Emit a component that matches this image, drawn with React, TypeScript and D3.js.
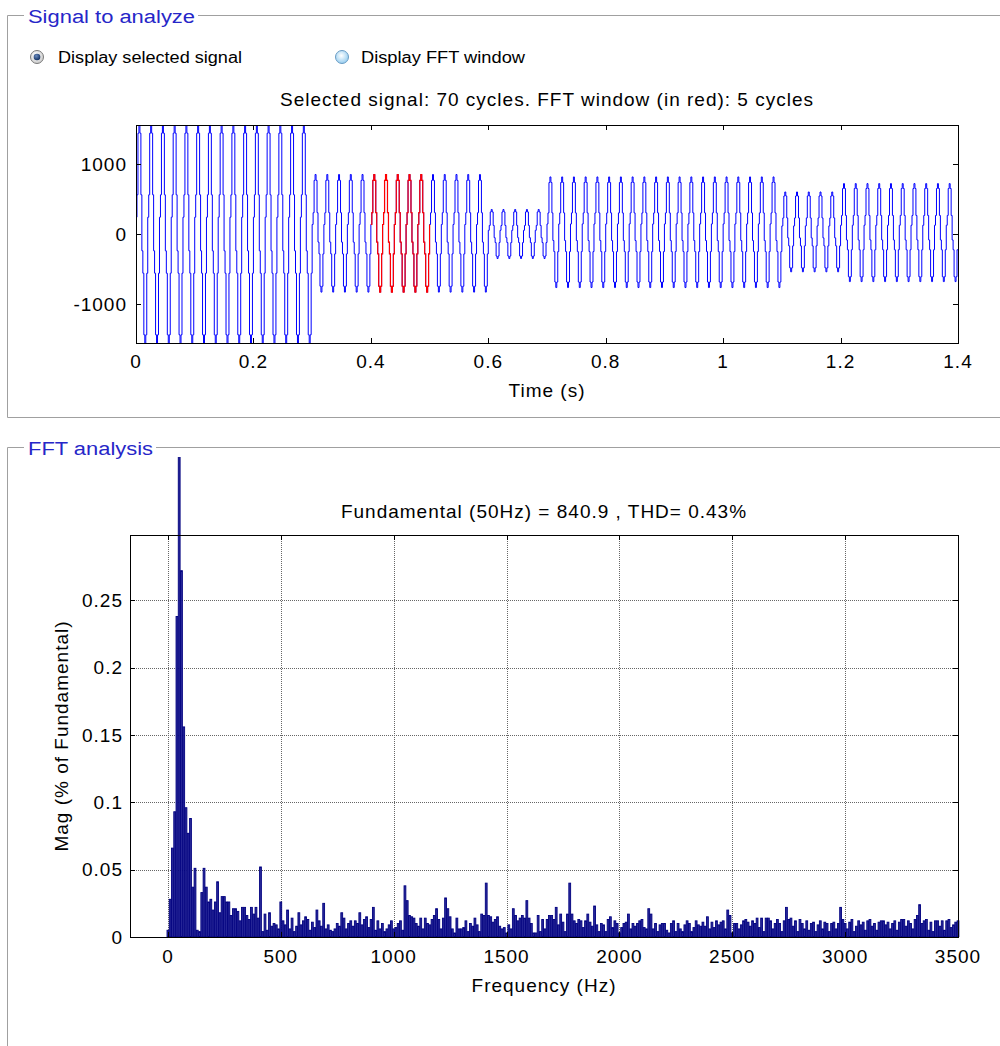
import React, { useEffect, useRef } from 'react';
import * as d3 from 'd3';

// upper plot: signal pieces (s), their peak value and offset
const segmentStart = [0, 0.3, 0.6, 0.7, 1.1, 1.2];
const segmentEnd = [0.3, 0.6, 0.7, 1.1, 1.2, 1.4];
const segmentPeak = [1600, 840, 350, 790, 570, 700];
const segmentOffset = [0, 10, 0, 25, 30, 20];
// staircase levels of one cycle, fraction of the peak
const cycleSteps = [0.15, 0.35, 0.9, 1.0, 0.9, 0.35, -0.15, -0.35, -0.9, -1.0, -0.9, -0.35];
const fundamentalHz = 50;
const cycles = 70;
const fftWindow = [0.4, 0.5];

const timeTicks = [0, 0.2, 0.4, 0.6, 0.8, 1, 1.2, 1.4];
const signalTicks = [-1000, 0, 1000];
const freqTicks = [0, 500, 1000, 1500, 2000, 2500, 3000, 3500];
const magTicks = [0, 0.05, 0.1, 0.15, 0.2, 0.25];

// spectrum, one bin every 10 Hz from 0 to 3500 Hz, % of fundamental (50 Hz bin = 100)
const binHz = 10;
const spectrum = [
  0.005, 0.028, 0.066, 0.093, 0.238, 100, 0.272, 0.156, 0.096, 0.077,
  0.088, 0.037, 0.051, 0.005, 0.004, 0.033, 0.051, 0.037, 0.026, 0.028,
  0.020, 0.026, 0.041, 0.018, 0.030, 0.030, 0.026, 0.026, 0.016, 0.021,
  0.021, 0.019, 0.012, 0.022, 0.022, 0.016, 0.013, 0.022, 0.017, 0.022,
  0.014, 0.052, 0.004, 0.017, 0.005, 0.018, 0.008, 0.010, 0.009, 0.006,
  0.026, 0.012, 0.009, 0.020, 0.006, 0.014, 0.004, 0.008, 0.018, 0.009,
  0.012, 0.015, 0.013, 0.005, 0.011, 0.007, 0.020, 0.012, 0.008, 0.025,
  0.006, 0.009, 0.005, 0.004, 0.006, 0.010, 0.008, 0.018, 0.014, 0.006,
  0.010, 0.012, 0.008, 0.012, 0.010, 0.018, 0.009, 0.013, 0.015, 0.007,
  0.013, 0.022, 0.005, 0.012, 0.006, 0.010, 0.004, 0.006, 0.009, 0.012,
  0.006, 0.007, 0.010, 0.012, 0.005, 0.038, 0.027, 0.016, 0.015, 0.014,
  0.010, 0.008, 0.014, 0.006, 0.014, 0.010, 0.009, 0.013, 0.016, 0.021,
  0.013, 0.006, 0.014, 0.029, 0.021, 0.015, 0.006, 0.003, 0.014, 0.006,
  0.006, 0.007, 0.012, 0.004, 0.010, 0.008, 0.014, 0.009, 0.004, 0.017,
  0.016, 0.040, 0.016, 0.015, 0.011, 0.013, 0.015, 0.008, 0.006, 0.007,
  0.003, 0.009, 0.006, 0.021, 0.016, 0.012, 0.014, 0.016, 0.014, 0.027,
  0.014, 0.010, 0.003, 0.003, 0.016, 0.004, 0.013, 0.006, 0.013, 0.016,
  0.016, 0.013, 0.022, 0.009, 0.017, 0.011, 0.004, 0.017, 0.040, 0.017,
  0.012, 0.010, 0.013, 0.012, 0.007, 0.012, 0.017, 0.011, 0.008, 0.023,
  0.009, 0.004, 0.010, 0.009, 0.004, 0.013, 0.015, 0.007, 0.012, 0.010,
  0.003, 0.007, 0.010, 0.011, 0.017, 0.006, 0.010, 0.008, 0.010, 0.012,
  0.013, 0.007, 0.006, 0.021, 0.017, 0.006, 0.010, 0.004, 0.009, 0.010,
  0.010, 0.005, 0.003, 0.010, 0.012, 0.004, 0.010, 0.006, 0.004, 0.009,
  0.012, 0.010, 0.004, 0.007, 0.012, 0.009, 0.008, 0.011, 0.008, 0.015,
  0.006, 0.011, 0.007, 0.012, 0.009, 0.011, 0.012, 0.006, 0.020, 0.016,
  0.003, 0.010, 0.010, 0.006, 0.009, 0.012, 0.013, 0.011, 0.008, 0.012,
  0.010, 0.014, 0.007, 0.014, 0.004, 0.014, 0.014, 0.012, 0.006, 0.010,
  0.013, 0.010, 0.004, 0.012, 0.022, 0.013, 0.014, 0.008, 0.012, 0.004,
  0.013, 0.010, 0.006, 0.012, 0.005, 0.010, 0.011, 0.004, 0.009, 0.012,
  0.006, 0.011, 0.010, 0.004, 0.010, 0.011, 0.006, 0.010, 0.022, 0.013,
  0.010, 0.006, 0.011, 0.013, 0.004, 0.008, 0.012, 0.009, 0.011, 0.005,
  0.012, 0.013, 0.008, 0.010, 0.005, 0.011, 0.012, 0.012, 0.009, 0.011,
  0.006, 0.010, 0.012, 0.005, 0.011, 0.013, 0.013, 0.008, 0.012, 0.010,
  0.006, 0.013, 0.016, 0.024, 0.010, 0.012, 0.013, 0.005, 0.011, 0.004,
  0.012, 0.012, 0.008, 0.012, 0.005, 0.012, 0.013, 0.007, 0.009, 0.011,
  0.012,
];

const FONT = 'Liberation Sans, Arial, Helvetica, sans-serif';
const PANEL_FONT = 'Liberation Sans, Arial, sans-serif';
const FRAME = '#a0a0a0';
const TITLE_BLUE = '#2626c8';
const NAVY = '#00007f';

const App = () => {
  const ref = useRef<SVGSVGElement>(null);

  useEffect(() => {
    const svg = d3.select(ref.current);
    svg.selectAll('*').remove();
    const defs = svg.append('defs');

    // ---------- panels ----------
    const drawPanel = (top: number, bottom: number, label: string, labelW: number) => {
      svg.append('path')
        .attr('d', `M24,${top + 0.5}H7.5V${bottom + 0.5}H1000M${28 + labelW + 3},${top + 0.5}H1000`)
        .attr('fill', 'none')
        .attr('stroke', FRAME);
      svg.append('text')
        .attr('x', 28)
        .attr('y', top + 8)
        .attr('font-family', PANEL_FONT)
        .attr('font-size', 18)
        .attr('fill', TITLE_BLUE)
        .attr('textLength', labelW)
        .attr('lengthAdjust', 'spacingAndGlyphs')
        .text(label);
    };
    drawPanel(15, 417, 'Signal to analyze', 167);
    drawPanel(447, 1100, 'FFT analysis', 125);

    // radio buttons
    const g1 = defs.append('radialGradient').attr('id', 'radOn').attr('cx', '40%').attr('cy', '35%').attr('r', '70%');
    g1.append('stop').attr('offset', '0%').attr('stop-color', '#ffffff');
    g1.append('stop').attr('offset', '100%').attr('stop-color', '#c8c8c8');
    const g2 = defs.append('radialGradient').attr('id', 'radOff').attr('cx', '45%').attr('cy', '40%').attr('r', '65%');
    g2.append('stop').attr('offset', '0%').attr('stop-color', '#ffffff');
    g2.append('stop').attr('offset', '100%').attr('stop-color', '#8cc8ee');
    const g3 = defs.append('radialGradient').attr('id', 'dot').attr('cx', '40%').attr('cy', '35%').attr('r', '70%');
    g3.append('stop').attr('offset', '0%').attr('stop-color', '#6b8cc0');
    g3.append('stop').attr('offset', '100%').attr('stop-color', '#0c2a5c');

    svg.append('circle').attr('cx', 37).attr('cy', 57).attr('r', 6.5)
      .attr('fill', 'url(#radOn)').attr('stroke', '#7a7a7a');
    svg.append('circle').attr('cx', 37).attr('cy', 57).attr('r', 3.3).attr('fill', 'url(#dot)');
    svg.append('circle').attr('cx', 342).attr('cy', 57).attr('r', 6.5)
      .attr('fill', 'url(#radOff)').attr('stroke', '#6a9cc4');

    const radioLabel = (x: number, s: string, w: number) =>
      svg.append('text')
        .attr('x', x).attr('y', 63)
        .attr('font-family', PANEL_FONT).attr('font-size', 16)
        .attr('fill', '#000')
        .attr('textLength', w).attr('lengthAdjust', 'spacingAndGlyphs')
        .text(s);
    radioLabel(58, 'Display selected signal', 184);
    radioLabel(361, 'Display FFT window', 164);

    const axisText = (sel: d3.Selection<any, any, any, any>) =>
      sel.attr('font-family', FONT).attr('font-size', 19).attr('letter-spacing', 1).attr('fill', '#000');

    // ---------- upper plot: signal ----------
    const xT = d3.scaleLinear().domain([0, 1.4]).range([136, 958]);
    const yS = d3.scaleLinear().domain([-1557, 1557]).range([343, 125]);
    const [tx0, tx1] = xT.range();
    const [ty0, ty1] = yS.range();

    svg.append('rect').attr('x', tx0).attr('y', ty1).attr('width', tx1 - tx0).attr('height', ty0 - ty1).attr('fill', '#fff');

    const pts: [number, number][] = [];
    const period = 1 / fundamentalHz;
    for (let c = 0; c < cycles; c++) {
      const t0 = c * period;
      const s = segmentStart.findIndex((st, i) => t0 >= st - 1e-9 && t0 < segmentEnd[i] - 1e-9);
      cycleSteps.forEach((lv, k) => {
        pts.push([t0 + (k * period) / cycleSteps.length, segmentOffset[s] + segmentPeak[s] * lv]);
      });
    }
    pts.push([1.4, pts[pts.length - 1][1]]);
    const redPts = pts.filter((p) => p[0] >= fftWindow[0] - 1e-9 && p[0] <= fftWindow[1] + 1e-9);

    defs.append('clipPath').attr('id', 'sigClip')
      .append('rect').attr('x', tx0).attr('y', ty1).attr('width', tx1 - tx0).attr('height', ty0 - ty1);

    const line = d3.line<[number, number]>()
      .x((d) => xT(d[0]))
      .y((d) => yS(d[1]))
      .curve(d3.curveStepAfter);

    const sig = svg.append('g').attr('clip-path', 'url(#sigClip)');
    sig.append('path').attr('d', line(pts)).attr('fill', 'none').attr('stroke', '#0000ff').attr('stroke-width', 1);
    sig.append('path').attr('d', line(redPts)).attr('fill', 'none').attr('stroke', '#ff0000').attr('stroke-width', 1.2);

    // ticks inside the box
    const tk = svg.append('g').attr('stroke', '#000').attr('stroke-width', 1);
    tk.selectAll('line.xb').data(timeTicks).join('line').attr('class', 'xb')
      .attr('x1', (d) => Math.round(xT(d)) + 0.5).attr('x2', (d) => Math.round(xT(d)) + 0.5)
      .attr('y1', ty0).attr('y2', ty0 - 5);
    tk.selectAll('line.xt').data(timeTicks).join('line').attr('class', 'xt')
      .attr('x1', (d) => Math.round(xT(d)) + 0.5).attr('x2', (d) => Math.round(xT(d)) + 0.5)
      .attr('y1', ty1).attr('y2', ty1 + 5);
    tk.selectAll('line.yl').data(signalTicks).join('line').attr('class', 'yl')
      .attr('x1', tx0).attr('x2', tx0 + 5)
      .attr('y1', (d) => Math.round(yS(d)) + 0.5).attr('y2', (d) => Math.round(yS(d)) + 0.5);
    tk.selectAll('line.yr').data(signalTicks).join('line').attr('class', 'yr')
      .attr('x1', tx1).attr('x2', tx1 - 5)
      .attr('y1', (d) => Math.round(yS(d)) + 0.5).attr('y2', (d) => Math.round(yS(d)) + 0.5);

    svg.append('rect').attr('x', tx0 + 0.5).attr('y', ty1 + 0.5).attr('width', tx1 - tx0).attr('height', ty0 - ty1)
      .attr('fill', 'none').attr('stroke', '#000');

    svg.append('g').selectAll('text').data(timeTicks).join('text')
      .call(axisText)
      .attr('x', (d) => xT(d)).attr('y', 368).attr('text-anchor', 'middle')
      .text((d) => d3.format('~g')(d));
    svg.append('g').selectAll('text').data(signalTicks).join('text')
      .call(axisText)
      .attr('x', tx0 - 9).attr('y', (d) => yS(d)).attr('dy', '0.35em').attr('text-anchor', 'end')
      .text((d) => String(d));

    svg.append('text').call(axisText)
      .attr('x', (tx0 + tx1) / 2).attr('y', 106).attr('text-anchor', 'middle')
      .text('Selected signal: 70 cycles. FFT window (in red): 5 cycles');
    svg.append('text').call(axisText)
      .attr('x', (tx0 + tx1) / 2).attr('y', 397).attr('text-anchor', 'middle')
      .text('Time (s)');

    // ---------- lower plot: spectrum ----------
    const xF = d3.scaleLinear().domain([-168, 3500]).range([130, 958]);
    const yM = d3.scaleLinear().domain([0, 0.2985]).range([937, 535]);
    const [fx0, fx1] = xF.range();
    const [fy0, fy1] = yM.range();

    svg.append('rect').attr('x', fx0).attr('y', fy1).attr('width', fx1 - fx0).attr('height', fy0 - fy1).attr('fill', '#fff');

    const grid = svg.append('g').attr('stroke', '#666').attr('stroke-width', 1).attr('stroke-dasharray', '1,1');
    grid.selectAll('line.gx').data(freqTicks).join('line').attr('class', 'gx')
      .attr('x1', (d) => Math.round(xF(d)) + 0.5).attr('x2', (d) => Math.round(xF(d)) + 0.5)
      .attr('y1', fy1).attr('y2', fy0);
    grid.selectAll('line.gy').data(magTicks).join('line').attr('class', 'gy')
      .attr('x1', fx0).attr('x2', fx1)
      .attr('y1', (d) => Math.round(yM(d)) + 0.5).attr('y2', (d) => Math.round(yM(d)) + 0.5);

    defs.append('clipPath').attr('id', 'barClip')
      .append('rect').attr('x', 0).attr('y', 457).attr('width', 1000).attr('height', fy0 - 457);

    const halfW = binHz * 0.4;
    svg.append('g').attr('clip-path', 'url(#barClip)')
      .selectAll('rect').data(spectrum).join('rect')
      .attr('x', (_, i) => xF(i * binHz - halfW))
      .attr('width', xF(halfW) - xF(-halfW))
      .attr('y', (d) => yM(d))
      .attr('height', (d) => fy0 - yM(d))
      .attr('fill', '#2a2a9a')
      .attr('stroke', NAVY)
      .attr('stroke-width', 0.9);

    const tk2 = svg.append('g').attr('stroke', '#000').attr('stroke-width', 1);
    tk2.selectAll('line.xb').data(freqTicks).join('line').attr('class', 'xb')
      .attr('x1', (d) => Math.round(xF(d)) + 0.5).attr('x2', (d) => Math.round(xF(d)) + 0.5)
      .attr('y1', fy0).attr('y2', fy0 - 5);
    tk2.selectAll('line.xt').data(freqTicks).join('line').attr('class', 'xt')
      .attr('x1', (d) => Math.round(xF(d)) + 0.5).attr('x2', (d) => Math.round(xF(d)) + 0.5)
      .attr('y1', fy1).attr('y2', fy1 + 5);
    tk2.selectAll('line.yl').data(magTicks).join('line').attr('class', 'yl')
      .attr('x1', fx0).attr('x2', fx0 + 5)
      .attr('y1', (d) => Math.round(yM(d)) + 0.5).attr('y2', (d) => Math.round(yM(d)) + 0.5);
    tk2.selectAll('line.yr').data(magTicks).join('line').attr('class', 'yr')
      .attr('x1', fx1).attr('x2', fx1 - 5)
      .attr('y1', (d) => Math.round(yM(d)) + 0.5).attr('y2', (d) => Math.round(yM(d)) + 0.5);

    svg.append('rect').attr('x', fx0 + 0.5).attr('y', fy1 + 0.5).attr('width', fx1 - fx0).attr('height', fy0 - fy1)
      .attr('fill', 'none').attr('stroke', '#000');

    svg.append('g').selectAll('text').data(freqTicks).join('text')
      .call(axisText)
      .attr('x', (d) => xF(d)).attr('y', 963).attr('text-anchor', 'middle')
      .text((d) => String(d));
    svg.append('g').selectAll('text').data(magTicks).join('text')
      .call(axisText)
      .attr('x', fx0 - 7).attr('y', (d) => yM(d)).attr('dy', '0.35em').attr('text-anchor', 'end')
      .text((d) => d3.format('~g')(d));

    svg.append('text').call(axisText)
      .attr('x', (fx0 + fx1) / 2).attr('y', 518).attr('text-anchor', 'middle')
      .text('Fundamental (50Hz) = 840.9 , THD= 0.43%');
    svg.append('text').call(axisText)
      .attr('x', (fx0 + fx1) / 2).attr('y', 992).attr('text-anchor', 'middle')
      .text('Frequency (Hz)');
    svg.append('text').call(axisText)
      .attr('transform', `translate(68, ${(fy0 + fy1) / 2}) rotate(-90)`)
      .attr('text-anchor', 'middle')
      .text('Mag (% of Fundamental)');
  }, []);

  return (
    <svg
      ref={ref}
      width={1000}
      height={1046}
      style={{ position: 'absolute', left: 0, top: 0, background: '#fff' }}
    />
  );
};

export default App;
